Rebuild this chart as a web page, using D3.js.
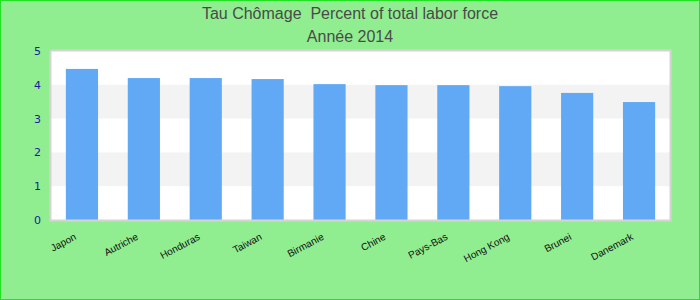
<!DOCTYPE html>
<html>
<head>
<meta charset="utf-8">
<script src="https://d3js.org/d3.v7.min.js"></script>
<style>
  body { margin: 0; }
  svg { display: block; }
</style>
</head>
<body>
<svg width="700" height="300"></svg>
<script>
const countries = ["Japon", "Autriche", "Honduras", "Taiwan", "Birmanie", "Chine", "Pays-Bas", "Hong Kong", "Brunei", "Danemark"];
const values = [4.47, 4.2, 4.2, 4.17, 4.02, 3.99, 3.99, 3.96, 3.76, 3.49];
const yTicks = [0, 1, 2, 3, 4, 5];
const titleLines = ["Tau Chômage  Percent of total labor force", "Année 2014"];

const svg = d3.select("svg");
const width = 700, height = 300;
const margin = { top: 51, right: 30, bottom: 80, left: 51 };

svg.append("rect")
    .attr("x", 0.5).attr("y", 0.5)
    .attr("width", width - 1).attr("height", height - 1)
    .attr("fill", "#90ee90")
    .attr("stroke", "#22e322");

const x = d3.scaleBand()
    .domain(countries)
    .range([margin.left, width - margin.right])
    .paddingInner(0.48)
    .paddingOuter(0.24);

const y = d3.scaleLinear()
    .domain([0, 5])
    .range([height - margin.bottom, margin.top]);

// plot background with alternating bands
svg.append("rect")
    .attr("x", margin.left).attr("y", margin.top)
    .attr("width", width - margin.right - margin.left)
    .attr("height", y(0) - margin.top)
    .attr("fill", "#ffffff");

svg.append("g").selectAll("rect")
    .data(yTicks.slice(0, -1).filter(d => d % 2 === 1))
    .join("rect")
    .attr("x", margin.left)
    .attr("width", width - margin.right - margin.left)
    .attr("y", d => y(d + 1))
    .attr("height", d => y(d) - y(d + 1))
    .attr("fill", "#f3f3f3");

svg.append("g").selectAll("rect")
    .data(values)
    .join("rect")
    .attr("x", (d, i) => x(countries[i]))
    .attr("width", x.bandwidth())
    .attr("y", d => y(d))
    .attr("height", d => y(0) - y(d))
    .attr("fill", "#62a9f5");

// frame
svg.append("path")
    .attr("d", `M${margin.left - 0.5},${margin.top} V${y(0) + 0.5} H${width - margin.right + 0.5} V${margin.top - 0.5} H${margin.left - 0.5}`)
    .attr("fill", "none")
    .attr("stroke", "#d4d4d4")
    .attr("stroke-width", 2);

const yAxis = svg.append("g")
    .attr("transform", `translate(${margin.left - 10},0)`)
    .call(d3.axisLeft(y).tickValues(yTicks).tickSize(0).tickPadding(0).tickFormat(d3.format("d")));
yAxis.select(".domain").remove();
yAxis.selectAll("text")
    .attr("fill", "#1a1a9a")
    .attr("font-family", "DejaVu Sans, sans-serif")
    .attr("font-size", 11);

svg.append("g").selectAll("text")
    .data(countries)
    .join("text")
    .attr("transform", d => `translate(${x(d) + x.bandwidth() / 2 - 5},${y(0) + 19}) rotate(-28)`)
    .attr("text-anchor", "end")
    .attr("font-family", "Liberation Sans, Arial, sans-serif")
    .attr("font-size", 10)
    .attr("fill", "#111")
    .text(d => d);

svg.append("g").selectAll("text")
    .data(titleLines)
    .join("text")
    .attr("x", width / 2)
    .attr("y", (d, i) => 19 + i * 23)
    .attr("text-anchor", "middle")
    .style("white-space", "pre")
    .attr("font-family", "Liberation Sans, Arial, sans-serif")
    .attr("font-size", 16)
    .attr("fill", "#4a4a4a")
    .text(d => d);
</script>
</body>
</html>
